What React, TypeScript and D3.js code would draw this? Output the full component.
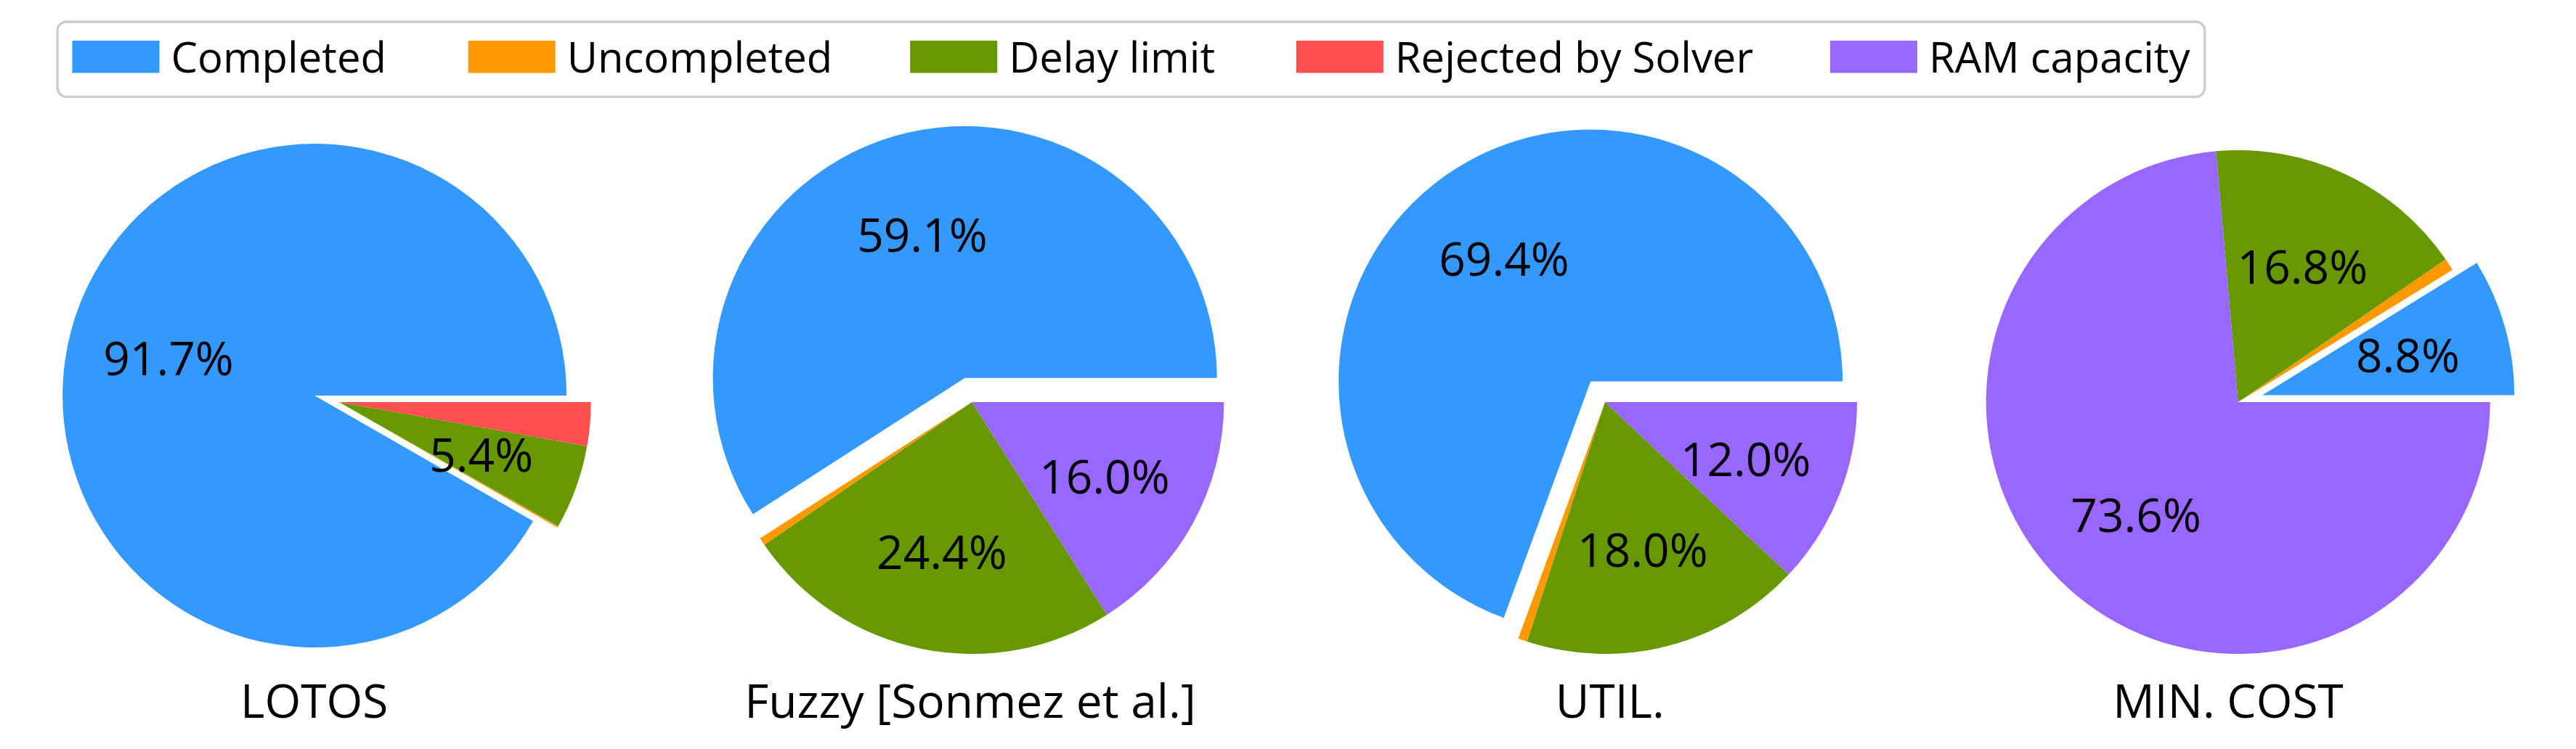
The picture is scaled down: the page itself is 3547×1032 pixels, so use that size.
import React, { useEffect, useRef } from 'react';
import * as d3 from 'd3';

// ---------- data ----------
const categories = ['Completed', 'Uncompleted', 'Delay limit', 'Rejected by Solver', 'RAM capacity'];
const colors = ['#3399ff', '#ff9900', '#669900', '#ff5050', '#9966ff'];
const methods = ['LOTOS', 'Fuzzy [Sonmez et al.]', 'UTIL.', 'MIN. COST'];
const lotosValues = [91.7, 0.1, 5.4, 2.8, 0];
const fuzzyValues = [59.1, 0.5, 24.4, 0, 16.0];
const utilValues = [69.4, 0.6, 18.0, 0, 12.0];
const minCostValues = [8.8, 0.8, 16.8, 0, 73.6];
const seriesValues = [lotosValues, fuzzyValues, utilValues, minCostValues];
const explode = [0.1, 0, 0, 0, 0];
const labelThreshold = 5;

// ---------- layout ----------
const W = 3547;
const H = 1032;
const R = 347;
const PIE_CY = 554;
const PIE_X0 = 466.7;
const PIE_X1 = 3081.7;
const TITLE_DX = [-34, -2.4, 6.7, -13.7];
const TITLE_Y = 989;
const FONT = "'Open Sans', sans-serif";
const BIG_FONT = 64;
const LEGEND_FONT = 58;
const LEGEND_HANDLE_X = [99.5, 644.7, 1253.2, 1784.8, 2520];

export default function App() {
  const ref = useRef<SVGSVGElement>(null);
  useEffect(() => {
    const svg = d3.select(ref.current as SVGSVGElement);
    svg.selectAll('*').remove();
    svg.append('rect').attr('width', W).attr('height', H).attr('fill', '#fff');

    const xPos = d3.scalePoint<string>().domain(methods).range([PIE_X0, PIE_X1]);
    const pie = d3
      .pie<number>()
      .sort(null)
      .value((d) => d)
      .startAngle(Math.PI / 2)
      .endAngle(Math.PI / 2 - 2 * Math.PI);
    const arc = d3.arc<d3.PieArcDatum<number>>().innerRadius(0).outerRadius(R);

    methods.forEach((m, i) => {
      const values = seriesValues[i];
      const total = d3.sum(values);
      const g = svg.append('g').attr('transform', `translate(${xPos(m)},${PIE_CY})`);
      const arcs = pie(values);
      const labels: { x: number; y: number; t: string }[] = [];
      arcs.forEach((a, j) => {
        if (a.value <= 0) return;
        const mid = (a.startAngle + a.endAngle) / 2;
        const off = explode[j] * R;
        const dx = off * Math.sin(mid);
        const dy = -off * Math.cos(mid);
        g.append('path')
          .attr('d', arc(a) as string)
          .attr('fill', colors[j])
          .attr('transform', `translate(${dx},${dy})`);
        const pct = (a.value / total) * 100;
        if (pct >= labelThreshold) {
          labels.push({
            x: dx + 0.6 * R * Math.sin(mid),
            y: dy - 0.6 * R * Math.cos(mid),
            t: pct.toFixed(1) + '%',
          });
        }
      });
      labels.forEach((l) => {
        g.append('text')
          .attr('x', l.x)
          .attr('y', l.y)
          .attr('dy', '0.4em')
          .attr('text-anchor', 'middle')
          .attr('font-family', FONT)
          .attr('font-size', BIG_FONT)
          .attr('fill', '#000')
          .text(l.t);
      });
      svg
        .append('text')
        .attr('x', (xPos(m) as number) + TITLE_DX[i])
        .attr('y', TITLE_Y)
        .attr('text-anchor', 'middle')
        .attr('font-family', FONT)
        .attr('font-size', BIG_FONT)
        .attr('fill', '#000')
        .text(m);
    });

    // legend
    const lg = svg.append('g');
    lg.append('rect')
      .attr('x', 79.2)
      .attr('y', 30)
      .attr('width', 3035.8 - 79.2)
      .attr('height', 103.3)
      .attr('rx', 12)
      .attr('fill', '#fff')
      .attr('fill-opacity', 0.8)
      .attr('stroke', '#cccccc')
      .attr('stroke-width', 3.3);
    categories.forEach((c, j) => {
      lg.append('rect')
        .attr('x', LEGEND_HANDLE_X[j])
        .attr('y', 56)
        .attr('width', 120)
        .attr('height', 44.5)
        .attr('fill', colors[j]);
      lg.append('text')
        .attr('x', LEGEND_HANDLE_X[j] + 136)
        .attr('y', 100)
        .attr('font-family', FONT)
        .attr('font-size', LEGEND_FONT)
        .attr('fill', '#000')
        .text(c);
    });
  }, []);
  return (
    <svg
      ref={ref}
      width={W}
      height={H}
      style={{ position: 'absolute', left: 0, top: 0, display: 'block' }}
    />
  );
}
